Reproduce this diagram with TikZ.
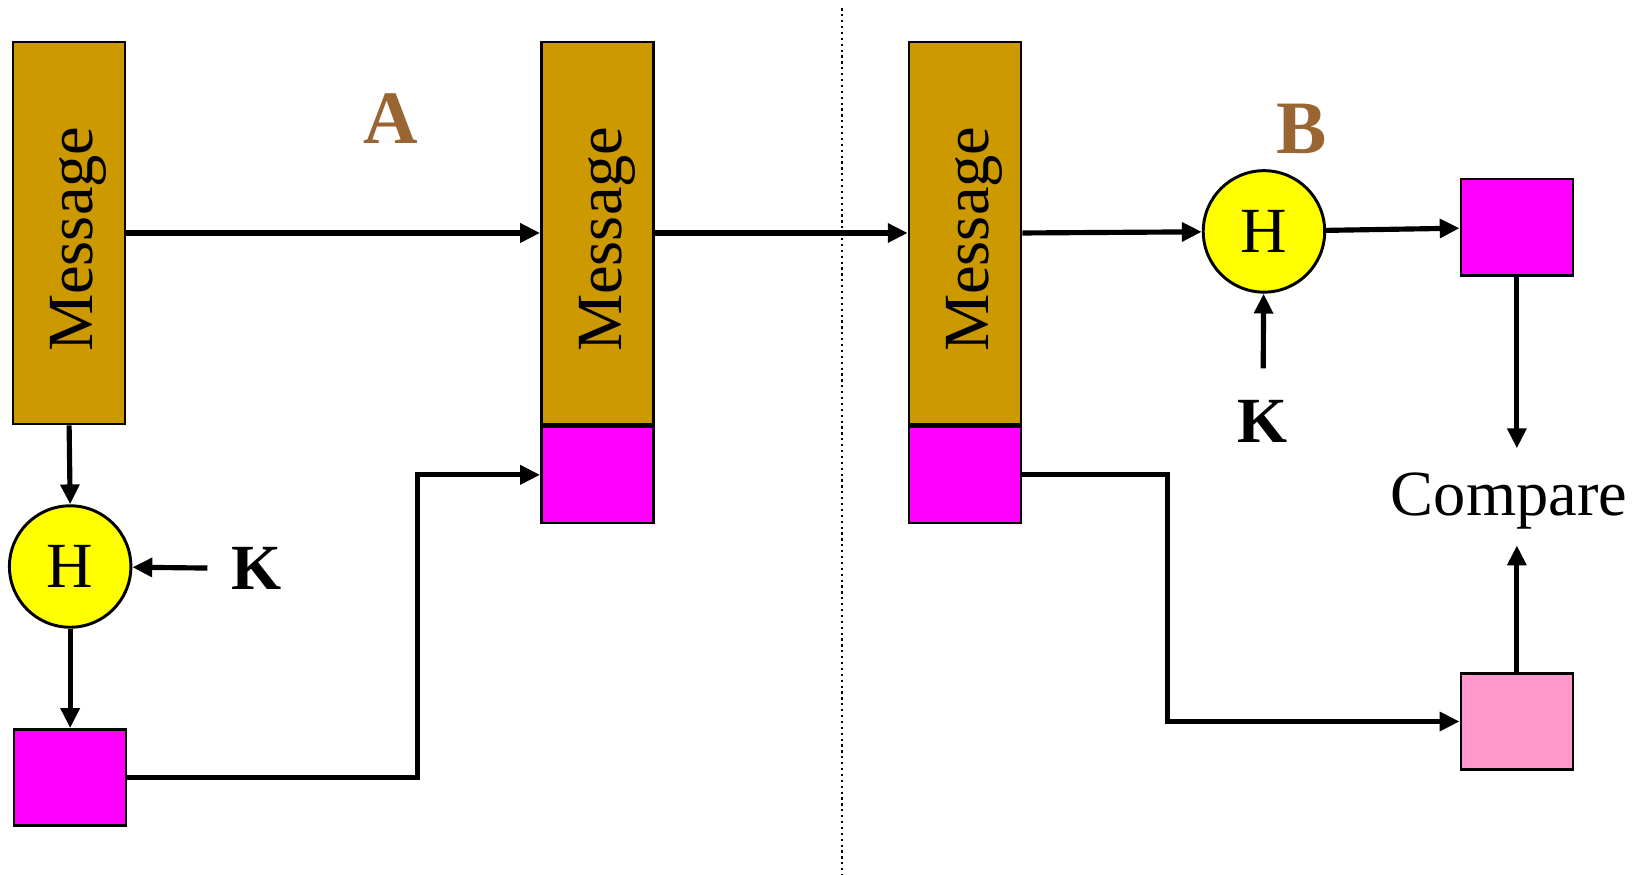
\documentclass[tikz,border=0pt]{standalone}
\usepackage{fontspec}
\setmainfont{Liberation Serif}
\usetikzlibrary{arrows.meta,positioning}

\definecolor{msgtan}{HTML}{CC9900}
\definecolor{macmag}{HTML}{FF00FF}
\definecolor{macpink}{HTML}{FF99CC}
\definecolor{hashyellow}{HTML}{FFFF00}
\definecolor{sidebrown}{HTML}{996633}

% rotated label of a message block
\newcommand{\msgtext}{\rotatebox{90}{\raisebox{-2.6pt}[\height][\depth]{Message\hspace*{0.12cm}}}}

\begin{document}
\begin{tikzpicture}[>={Triangle[length=5.4pt,width=5pt]},
  every node/.style={font=\fontsize{17.5}{21}\selectfont},
  msg/.style={draw, line width=0.7pt, fill=msgtan, minimum width=1.07cm, minimum height=3.65cm, inner sep=0pt},
  mac/.style={draw, line width=0.7pt, fill=macmag, minimum width=1.07cm, minimum height=0.92cm, inner sep=0pt},
  hashfn/.style={draw, circle, line width=0.8pt, fill=hashyellow, minimum size=1.16cm, inner sep=0pt},
  keytext/.style={font=\bfseries\fontsize{17.5}{21}\selectfont},
  sidename/.style={text=sidebrown, font=\bfseries\fontsize{20.5}{24}\selectfont},
  flow/.style={->, line width=1.4pt}]
  \useasboundingbox (0,0) rectangle (15.68,8.35);

  % Sender A
  \node[msg] (msgA) at (0.66,6.125) {\msgtext};
  \node[hashfn] (hA) at (0.67,2.94) {H};
  \node[mac] (macA) at (0.67,0.925) {};
  \node[keytext] (kA) at (2.45,2.92) {K};
  \node[sidename] (sideA) at (3.73,7.22) {A};

  % Message sent with its MAC
  \node[msg] (msgB) at (5.705,6.125) {\msgtext};
  \node[mac, below=0pt of msgB] (macB) {};

  % Divider
  \draw[densely dotted, line width=0.6pt] (8.04,8.27) -- (8.04,0);

  % Receiver B
  \node[msg] (msgC) at (9.215,6.125) {\msgtext};
  \node[mac, below=0pt of msgC] (macC) {};
  \node[hashfn] (hB) at (12.07,6.14) {H};
  \node[keytext] (kB) at (12.06,4.33) {K};
  \node[sidename] (sideB) at (12.43,7.12) {B};
  \node[mac] (macD) at (14.485,6.18) {};
  \node (cmp) at (14.41,3.57) {Compare};
  \node[mac, fill=macpink] (macE) at (14.485,1.46) {};

  % Bend points
  \coordinate (bendA) at (3.99,0);
  \coordinate (bendB) at (11.15,0);

  % Arrows on the sender side
  \draw[flow] (msgA.east) -- (msgB.west);
  \draw[flow] (msgA.south) -- (hA.north);
  \draw[flow] (hA) -- (macA);
  \draw[flow, shorten <=3pt] (kA) -- (hA);
  \draw[flow] (macA.east) -- (macA.east -| bendA) |- (macB.west);

  % Arrows on the receiver side
  \draw[flow] (msgB.east) -- (msgC.west);
  \draw[flow] (msgC.east) -- (hB);
  \draw[flow, shorten <=5pt] (kB) -- (hB);
  \draw[flow] (hB) -- (macD);
  \draw[flow, shorten >=3pt] (macD.south) -- (macD.south |- cmp.north);
  \draw[flow, shorten >=1pt] (macE.north) -- (macE.north |- cmp.south);
  \draw[flow] (macC.east) -- (macC.east -| bendB) |- (macE.west);
\end{tikzpicture}
\end{document}
